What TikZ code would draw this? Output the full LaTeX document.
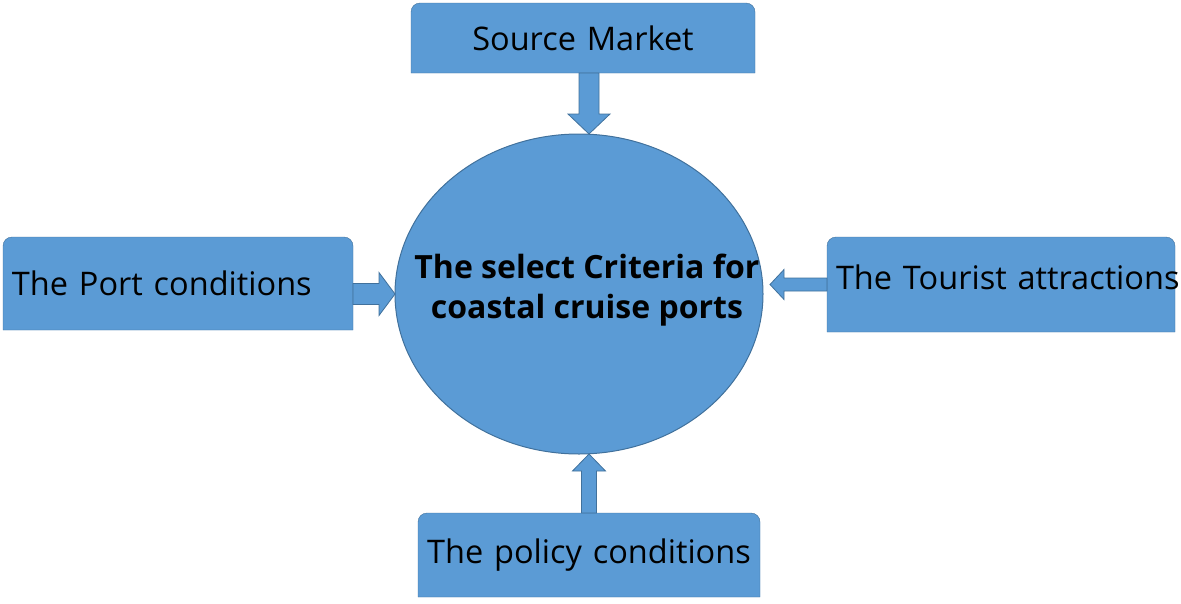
\documentclass[tikz,border=0pt]{standalone}
\usepackage{fontspec}
\setmainfont{Open Sans}
\usetikzlibrary{calc, shapes.geometric, backgrounds}
\definecolor{cfill}{HTML}{5B9BD5}
\definecolor{cline}{HTML}{41719C}
\tikzset{
  every picture/.style={line width=1pt},
  box/.style={inner xsep=9pt, inner ysep=0pt, outer sep=0pt, font=\fontsize{32.5}{38}\selectfont},
  boxshape/.style={draw=cline, fill=cfill},
  crit/.style={ellipse, draw=cline, fill=cfill, inner sep=0pt, outer sep=0pt, font=\fontsize{32}{40}\selectfont\bfseries},
  % block arrow: shaft half width, head half width, head length
  barrow/.style n args={3}{draw=cline, fill=cfill, line width=0.8pt, to path={
    ($(\tikztostart)!#1pt!90:(\tikztotarget)$)
    -- ($(\tikztotarget)!#3pt!(\tikztostart)!#1pt!90:(\tikztotarget)$)
    -- ($(\tikztotarget)!#3pt!(\tikztostart)!#2pt!90:(\tikztotarget)$)
    -- (\tikztotarget)
    -- ($(\tikztotarget)!#3pt!(\tikztostart)!#2pt!-90:(\tikztotarget)$)
    -- ($(\tikztotarget)!#3pt!(\tikztostart)!#1pt!-90:(\tikztotarget)$)
    -- ($(\tikztostart)!#1pt!-90:(\tikztotarget)$) -- cycle}},
}
\newcommand{\centretext}[1]{\makebox[0pt]{\hspace{16pt}\raisebox{-6pt}{\smash{\begin{tabular}{@{}c@{}}#1\end{tabular}}}}}

\begin{document}
\begin{tikzpicture}[x=1pt, y=-1pt]
  \useasboundingbox (0,0) rectangle (1181,603);
  \node[box, text width=326pt, minimum height=70pt, align=center] (src) at (583,38) {Source Market};
  \node[box, text width=332pt, minimum height=93pt, align=left] (port) at (178,283.5) {The Port conditions};
  \node[box, text width=330pt, minimum height=95pt, align=left] (tour) at (1001,284.5) {\raisebox{7pt}[\height][\depth]{\mbox{The Tourist attractions}}};
  \node[box, text width=324pt, minimum height=84pt, align=center] (pol) at (589,555) {The policy conditions};
  \node[crit, minimum width=368pt, minimum height=320pt] (crit) at (579,294) {\centretext{The select Criteria for\\coastal cruise ports}};
  \begin{scope}[on background layer]
    \foreach \n in {src, port, tour, pol}
      \path[boxshape] (\n.south west) [rounded corners=9pt] -- (\n.north west) -- (\n.north east) [sharp corners] -- (\n.south east) -- cycle;
  \end{scope}
  \draw[barrow={10}{21}{20}] ([xshift=6pt]src.south) to ([xshift=10pt]crit.north);
  \draw[barrow={10.5}{21.5}{16}] ([yshift=-10.5pt]port.east) to (crit.west);
  \draw[barrow={6.5}{15}{14}] (tour.west) to ($(tour.west -| crit.east)+(7,0)$);
  \draw[barrow={7.5}{16.5}{17}] (pol.north) to ([xshift=10pt]crit.south);
\end{tikzpicture}
\end{document}
